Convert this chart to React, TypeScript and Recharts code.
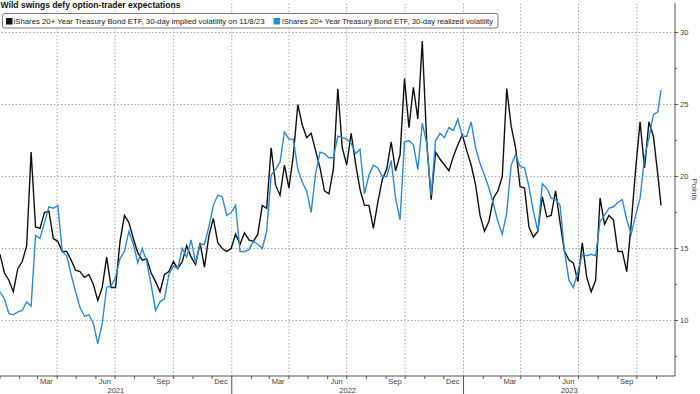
import React from "react";
import { LineChart, Line, XAxis, YAxis, ReferenceLine } from "recharts";

const DAY = 86400000;
const START = Date.UTC(2021, 0, 1);
const END = Date.UTC(2023, 10, 30);
const LAST_DATE = Date.UTC(2023, 10, 8);

// weekly readings (Fridays from Jan 1 2021), last point is Nov 8 2023
const implied = [
    14.6, 13.3, 12.8, 12.0, 13.6, 14.1, 15.2, 21.7, 16.5, 16.4,
    17.5, 17.6, 15.7, 15.5, 14.8, 14.8, 14.2, 13.5, 13.4, 13.0,
    13.2, 12.5, 11.4, 12.3, 14.4, 12.3, 12.3, 15.5, 17.3, 16.8,
    15.7, 14.7, 14.2, 14.3, 13.3, 12.7, 12.0, 13.2, 13.4, 14.1,
    13.6, 14.1, 15.2, 14.4, 13.9, 15.4, 13.7, 15.9, 17.1, 15.4,
    15.0, 14.8, 15.0, 16.0, 15.3, 16.1, 15.6, 15.5, 16.0, 18.0,
    17.8, 22.0, 19.4, 18.7, 20.8, 19.2, 21.5, 25.0, 23.6, 22.7,
    23.0, 21.8, 20.6, 19.0, 18.8, 20.5, 26.1, 22.0, 20.8, 23.0,
    20.9, 19.1, 18.0, 18.0, 16.4, 18.2, 19.8, 20.5, 22.4, 20.4,
    21.5, 26.8, 23.4, 26.2, 24.0, 29.4, 22.4, 18.4, 21.7, 21.2,
    20.8, 20.4, 21.4, 22.2, 22.9, 21.8, 20.8, 19.4, 17.3, 16.2,
    16.9, 18.5, 19.0, 20.0, 26.1, 23.5, 22.0, 19.3, 19.2, 16.5,
    15.8, 16.2, 18.6, 17.2, 17.3, 19.0, 16.8, 14.8, 14.2, 14.0,
    12.7, 15.4, 13.0, 12.0, 12.8, 18.5, 16.7, 17.3, 17.0, 14.8,
    14.8, 13.4, 16.7, 20.5, 23.8, 20.6, 23.8, 22.8, 20.1, 18.0,
];

const realized = [
    12.0, 11.5, 10.5, 10.4, 10.6, 10.7, 11.3, 11.0, 15.9, 15.7,
    16.8, 17.9, 17.8, 18.0, 14.8, 14.5, 13.2, 12.0, 10.9, 10.3,
    10.4, 9.8, 8.4, 9.8, 12.3, 12.4, 13.0, 14.3, 14.8, 16.2,
    15.3, 14.0, 15.0, 14.1, 12.5, 10.7, 11.3, 11.5, 13.2, 13.8,
    13.6, 15.0, 14.4, 15.6, 14.0, 15.3, 15.3, 16.5, 18.0, 18.7,
    18.6, 17.3, 17.5, 18.0, 14.8, 14.8, 14.9, 15.5, 15.3, 15.0,
    16.2, 20.1, 20.5, 21.0, 23.1, 22.6, 22.6, 20.5, 19.6, 19.0,
    17.5, 20.2, 21.7, 21.6, 21.3, 21.3, 22.8, 22.7, 22.6, 22.3,
    21.6, 21.9, 18.8, 20.1, 20.8, 20.6, 20.0, 20.0, 21.1, 18.5,
    17.0, 22.4, 22.5, 22.2, 20.5, 23.7, 22.3, 18.7, 22.5, 23.0,
    22.7, 23.4, 23.2, 24.0, 22.8, 22.8, 23.8, 22.0, 20.9, 20.1,
    19.2, 18.1, 16.9, 16.0, 17.5, 20.8, 21.5, 20.7, 20.6, 19.3,
    17.6, 16.2, 19.5, 19.2, 18.5, 18.4, 18.0, 14.8, 12.8, 12.3,
    13.4, 14.6, 14.5, 14.6, 14.5, 16.9, 17.3, 17.8, 17.9, 18.2,
    18.4, 17.0, 16.0, 17.3, 18.5, 21.3, 22.7, 24.3, 24.5, 26.0,
];

const dates = implied.map((_, i) => (i < implied.length - 1 ? START + i * 7 * DAY : LAST_DATE));

const data = dates.map((t, i) => ({ t, implied: implied[i], realized: realized[i] }));

const yTicks = [7.5, 10, 12.5, 15, 17.5, 20, 22.5, 25, 27.5, 30];
const yGrid = [10, 15, 20, 25, 30];
const labelMonths = ["Mar", "Jun", "Sep", "Dec"];
const years = ["2021", "2022", "2023"];

const BLACK = "#111111";
const BLUE = "#2b8ad6";
const GRID = "#a8a8a8";
const AXIS = "#555555";
const TEXT = "#444444";

// build x-axis ticks: month tick marks, quarter month labels, year labels
const tickInfo = new Map<number, { kind: string; text?: string; yearStart?: boolean }>();
const monthStarts: number[] = [];
for (let y = 2021; y <= 2023; y++) {
    for (let m = 0; m < 12; m++) {
        const t = Date.UTC(y, m, 1);
        if (t <= END) monthStarts.push(t);
    }
}
monthStarts.forEach((t) => {
    const d = new Date(t);
    const m = d.getUTCMonth();
    tickInfo.set(t, { kind: "month", yearStart: m === 0 && t > START });
    if (m % 3 === 2) tickInfo.set(t + 14 * DAY, { kind: "label", text: labelMonths[(m - 2) / 3] });
});
years.forEach((y, i) => {
    const a = Date.UTC(2021 + i, 0, 1);
    const b = Math.min(Date.UTC(2022 + i, 0, 1), END);
    tickInfo.set((a + b) / 2, { kind: "year", text: y });
});
const xTicks = Array.from(tickInfo.keys()).sort((a, b) => a - b);
const quarterStarts = monthStarts.filter((t) => new Date(t).getUTCMonth() % 3 === 0 && t > START);

const XTick = ({ x, y, payload }: any) => {
    const info = tickInfo.get(payload.value);
    if (!info) return null;
    if (info.kind === "month") {
        return <line x1={x} x2={x} y1={y} y2={y + (info.yearStart ? 18 : 3)} stroke={AXIS} strokeWidth={1} />;
    }
    if (info.kind === "label") {
        return (
            <text x={x} y={y + 8} textAnchor="middle" fontSize={7.5} fill={TEXT}>
                {info.text}
            </text>
        );
    }
    return (
        <text x={x} y={y + 17} textAnchor="middle" fontSize={7.5} fill={TEXT}>
            {info.text}
        </text>
    );
};

const YTick = ({ x, y, payload }: any) => {
    const major = payload.value % 5 === 0;
    return (
        <g>
            <line x1={x} x2={x + (major ? 3 : 2)} y1={y} y2={y} stroke={AXIS} strokeWidth={1} />
            {major && (
                <text x={x + 5} y={y} dy="0.35em" fontSize={7.5} fill={TEXT}>
                    {payload.value}
                </text>
            )}
        </g>
    );
};

const PointsLabel = ({ viewBox }: any) => {
    const cx = viewBox.x + 20;
    const cy = viewBox.y + viewBox.height / 2;
    return (
        <text x={cx} y={cy} transform={`rotate(90 ${cx} ${cy})`} textAnchor="middle" dy="0.35em" fontSize={8} fill={TEXT}>
            Points
        </text>
    );
};

export default function App() {
    return (
        <div
            style={{
                position: "relative",
                width: 700,
                height: 394,
                background: "#fff",
                fontFamily: '"Liberation Sans", Arial, sans-serif',
            }}
        >
            <style>{`body{margin:0}`}</style>
            <LineChart width={700} height={394} data={data} margin={{ top: 3, right: 0, bottom: 0, left: 0 }}>
                {yGrid.map((v) => (
                    <ReferenceLine key={`h${v}`} y={v} stroke={GRID} strokeDasharray="1.5 2" />
                ))}
                {quarterStarts.map((t) => (
                    <ReferenceLine key={`v${t}`} x={t} stroke={GRID} strokeDasharray="1.5 2" />
                ))}
                <XAxis
                    dataKey="t"
                    type="number"
                    domain={[START, END]}
                    ticks={xTicks}
                    interval={0}
                    tick={<XTick />}
                    tickLine={false}
                    tickSize={0}
                    tickMargin={0}
                    height={18}
                    axisLine={{ stroke: AXIS }}
                    allowDataOverflow
                />
                <YAxis
                    orientation="right"
                    type="number"
                    domain={[6.15, 32.05]}
                    ticks={yTicks}
                    interval={0}
                    tick={<YTick />}
                    tickLine={false}
                    tickSize={0}
                    tickMargin={0}
                    width={25}
                    axisLine={{ stroke: AXIS }}
                    allowDataOverflow
                    label={<PointsLabel />}
                />
                <Line
                    type="linear"
                    dataKey="implied"
                    stroke={BLACK}
                    strokeWidth={1.4}
                    dot={false}
                    isAnimationActive={false}
                />
                <Line
                    type="linear"
                    dataKey="realized"
                    stroke={BLUE}
                    strokeWidth={1.4}
                    dot={false}
                    isAnimationActive={false}
                />
            </LineChart>
            <svg width={700} height={30} style={{ position: "absolute", left: 0, top: 0 }}>
                <text x={0.5} y={7.5} fontSize={8.5} fontWeight="bold" fill="#111" textLength={180} lengthAdjust="spacingAndGlyphs">
                    Wild swings defy option-trader expectations
                </text>
                <rect x={2.5} y={13.5} width={495.5} height={14.5} rx={2} fill="#fff" stroke="#777" />
                <rect x={6} y={18} width={6.5} height={6.5} fill={BLACK} />
                <text x={13.5} y={24} fontSize={7.5} fill="#222" textLength={251} lengthAdjust="spacingAndGlyphs">
                    iShares 20+ Year Treasury Bond ETF, 30-day implied volatility on 11/8/23
                </text>
                <rect x={273.5} y={18} width={6.5} height={6.5} fill={BLUE} />
                <text x={282} y={24} fontSize={7.5} fill="#222" textLength={211} lengthAdjust="spacingAndGlyphs">
                    iShares 20+ Year Treasury Bond ETF, 30-day realized volatility
                </text>
            </svg>
        </div>
    );
}
